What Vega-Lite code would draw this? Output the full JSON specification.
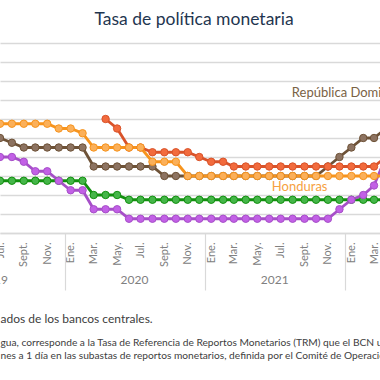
{
  "$schema": "https://vega.github.io/schema/vega-lite/v6.json",
  "width": 380,
  "height": 190,
  "autosize": {"type": "none"},
  "padding": {"left": 0, "top": 43, "right": 0, "bottom": 147},
  "background": "white",
  "config": {"view": {"stroke": null}, "font": "Lato"},
  "title": {"text": "Tasa de política monetaria", "font": "Lato", "fontSize": 17.5, "fontWeight": "normal", "color": "#1f3650", "offset": 15, "dx": 4},
  "datasets": {
    "tasas": [
      {"fecha": "2019-07-01", "pais": "Guatemala", "tasa": 2.75},
      {"fecha": "2019-08-01", "pais": "Guatemala", "tasa": 2.75},
      {"fecha": "2019-09-01", "pais": "Guatemala", "tasa": 2.75},
      {"fecha": "2019-10-01", "pais": "Guatemala", "tasa": 2.75},
      {"fecha": "2019-11-01", "pais": "Guatemala", "tasa": 2.75},
      {"fecha": "2019-12-01", "pais": "Guatemala", "tasa": 2.75},
      {"fecha": "2020-01-01", "pais": "Guatemala", "tasa": 2.75},
      {"fecha": "2020-02-01", "pais": "Guatemala", "tasa": 2.75},
      {"fecha": "2020-03-01", "pais": "Guatemala", "tasa": 2.0},
      {"fecha": "2020-04-01", "pais": "Guatemala", "tasa": 2.0},
      {"fecha": "2020-05-01", "pais": "Guatemala", "tasa": 2.0},
      {"fecha": "2020-06-01", "pais": "Guatemala", "tasa": 1.75},
      {"fecha": "2020-07-01", "pais": "Guatemala", "tasa": 1.75},
      {"fecha": "2020-08-01", "pais": "Guatemala", "tasa": 1.75},
      {"fecha": "2020-09-01", "pais": "Guatemala", "tasa": 1.75},
      {"fecha": "2020-10-01", "pais": "Guatemala", "tasa": 1.75},
      {"fecha": "2020-11-01", "pais": "Guatemala", "tasa": 1.75},
      {"fecha": "2020-12-01", "pais": "Guatemala", "tasa": 1.75},
      {"fecha": "2021-01-01", "pais": "Guatemala", "tasa": 1.75},
      {"fecha": "2021-02-01", "pais": "Guatemala", "tasa": 1.75},
      {"fecha": "2021-03-01", "pais": "Guatemala", "tasa": 1.75},
      {"fecha": "2021-04-01", "pais": "Guatemala", "tasa": 1.75},
      {"fecha": "2021-05-01", "pais": "Guatemala", "tasa": 1.75},
      {"fecha": "2021-06-01", "pais": "Guatemala", "tasa": 1.75},
      {"fecha": "2021-07-01", "pais": "Guatemala", "tasa": 1.75},
      {"fecha": "2021-08-01", "pais": "Guatemala", "tasa": 1.75},
      {"fecha": "2021-09-01", "pais": "Guatemala", "tasa": 1.75},
      {"fecha": "2021-10-01", "pais": "Guatemala", "tasa": 1.75},
      {"fecha": "2021-11-01", "pais": "Guatemala", "tasa": 1.75},
      {"fecha": "2021-12-01", "pais": "Guatemala", "tasa": 1.75},
      {"fecha": "2022-01-01", "pais": "Guatemala", "tasa": 1.75},
      {"fecha": "2022-02-01", "pais": "Guatemala", "tasa": 1.75},
      {"fecha": "2022-03-01", "pais": "Guatemala", "tasa": 1.75},
      {"fecha": "2022-04-01", "pais": "Guatemala", "tasa": 1.75},

      {"fecha": "2019-07-01", "pais": "Costa Rica", "tasa": 4.0},
      {"fecha": "2019-08-01", "pais": "Costa Rica", "tasa": 4.0},
      {"fecha": "2019-09-01", "pais": "Costa Rica", "tasa": 3.75},
      {"fecha": "2019-10-01", "pais": "Costa Rica", "tasa": 3.25},
      {"fecha": "2019-11-01", "pais": "Costa Rica", "tasa": 3.25},
      {"fecha": "2019-12-01", "pais": "Costa Rica", "tasa": 2.75},
      {"fecha": "2020-01-01", "pais": "Costa Rica", "tasa": 2.25},
      {"fecha": "2020-02-01", "pais": "Costa Rica", "tasa": 2.25},
      {"fecha": "2020-03-01", "pais": "Costa Rica", "tasa": 1.25},
      {"fecha": "2020-04-01", "pais": "Costa Rica", "tasa": 1.25},
      {"fecha": "2020-05-01", "pais": "Costa Rica", "tasa": 1.25},
      {"fecha": "2020-06-01", "pais": "Costa Rica", "tasa": 0.75},
      {"fecha": "2020-07-01", "pais": "Costa Rica", "tasa": 0.75},
      {"fecha": "2020-08-01", "pais": "Costa Rica", "tasa": 0.75},
      {"fecha": "2020-09-01", "pais": "Costa Rica", "tasa": 0.75},
      {"fecha": "2020-10-01", "pais": "Costa Rica", "tasa": 0.75},
      {"fecha": "2020-11-01", "pais": "Costa Rica", "tasa": 0.75},
      {"fecha": "2020-12-01", "pais": "Costa Rica", "tasa": 0.75},
      {"fecha": "2021-01-01", "pais": "Costa Rica", "tasa": 0.75},
      {"fecha": "2021-02-01", "pais": "Costa Rica", "tasa": 0.75},
      {"fecha": "2021-03-01", "pais": "Costa Rica", "tasa": 0.75},
      {"fecha": "2021-04-01", "pais": "Costa Rica", "tasa": 0.75},
      {"fecha": "2021-05-01", "pais": "Costa Rica", "tasa": 0.75},
      {"fecha": "2021-06-01", "pais": "Costa Rica", "tasa": 0.75},
      {"fecha": "2021-07-01", "pais": "Costa Rica", "tasa": 0.75},
      {"fecha": "2021-08-01", "pais": "Costa Rica", "tasa": 0.75},
      {"fecha": "2021-09-01", "pais": "Costa Rica", "tasa": 0.75},
      {"fecha": "2021-10-01", "pais": "Costa Rica", "tasa": 0.75},
      {"fecha": "2021-11-01", "pais": "Costa Rica", "tasa": 0.75},
      {"fecha": "2021-12-01", "pais": "Costa Rica", "tasa": 1.25},
      {"fecha": "2022-01-01", "pais": "Costa Rica", "tasa": 1.75},
      {"fecha": "2022-02-01", "pais": "Costa Rica", "tasa": 2.0},
      {"fecha": "2022-03-01", "pais": "Costa Rica", "tasa": 2.5},
      {"fecha": "2022-04-01", "pais": "Costa Rica", "tasa": 4.0},

      {"fecha": "2019-07-01", "pais": "República Dominicana", "tasa": 5.0},
      {"fecha": "2019-08-01", "pais": "República Dominicana", "tasa": 4.75},
      {"fecha": "2019-09-01", "pais": "República Dominicana", "tasa": 4.5},
      {"fecha": "2019-10-01", "pais": "República Dominicana", "tasa": 4.5},
      {"fecha": "2019-11-01", "pais": "República Dominicana", "tasa": 4.5},
      {"fecha": "2019-12-01", "pais": "República Dominicana", "tasa": 4.5},
      {"fecha": "2020-01-01", "pais": "República Dominicana", "tasa": 4.5},
      {"fecha": "2020-02-01", "pais": "República Dominicana", "tasa": 4.5},
      {"fecha": "2020-03-01", "pais": "República Dominicana", "tasa": 3.5},
      {"fecha": "2020-04-01", "pais": "República Dominicana", "tasa": 3.5},
      {"fecha": "2020-05-01", "pais": "República Dominicana", "tasa": 3.5},
      {"fecha": "2020-06-01", "pais": "República Dominicana", "tasa": 3.5},
      {"fecha": "2020-07-01", "pais": "República Dominicana", "tasa": 3.5},
      {"fecha": "2020-08-01", "pais": "República Dominicana", "tasa": 3.5},
      {"fecha": "2020-09-01", "pais": "República Dominicana", "tasa": 3.0},
      {"fecha": "2020-10-01", "pais": "República Dominicana", "tasa": 3.0},
      {"fecha": "2020-11-01", "pais": "República Dominicana", "tasa": 3.0},
      {"fecha": "2020-12-01", "pais": "República Dominicana", "tasa": 3.0},
      {"fecha": "2021-01-01", "pais": "República Dominicana", "tasa": 3.0},
      {"fecha": "2021-02-01", "pais": "República Dominicana", "tasa": 3.0},
      {"fecha": "2021-03-01", "pais": "República Dominicana", "tasa": 3.0},
      {"fecha": "2021-04-01", "pais": "República Dominicana", "tasa": 3.0},
      {"fecha": "2021-05-01", "pais": "República Dominicana", "tasa": 3.0},
      {"fecha": "2021-06-01", "pais": "República Dominicana", "tasa": 3.0},
      {"fecha": "2021-07-01", "pais": "República Dominicana", "tasa": 3.0},
      {"fecha": "2021-08-01", "pais": "República Dominicana", "tasa": 3.0},
      {"fecha": "2021-09-01", "pais": "República Dominicana", "tasa": 3.0},
      {"fecha": "2021-10-01", "pais": "República Dominicana", "tasa": 3.0},
      {"fecha": "2021-11-01", "pais": "República Dominicana", "tasa": 3.5},
      {"fecha": "2021-12-01", "pais": "República Dominicana", "tasa": 4.0},
      {"fecha": "2022-01-01", "pais": "República Dominicana", "tasa": 4.5},
      {"fecha": "2022-02-01", "pais": "República Dominicana", "tasa": 5.0},
      {"fecha": "2022-03-01", "pais": "República Dominicana", "tasa": 5.0},
      {"fecha": "2022-04-01", "pais": "República Dominicana", "tasa": 5.5},

      {"fecha": "2020-04-01", "pais": "Nicaragua", "tasa": 6.0},
      {"fecha": "2020-05-01", "pais": "Nicaragua", "tasa": 5.5},
      {"fecha": "2020-06-01", "pais": "Nicaragua", "tasa": 4.5},
      {"fecha": "2020-07-01", "pais": "Nicaragua", "tasa": 4.5},
      {"fecha": "2020-08-01", "pais": "Nicaragua", "tasa": 4.25},
      {"fecha": "2020-09-01", "pais": "Nicaragua", "tasa": 4.25},
      {"fecha": "2020-10-01", "pais": "Nicaragua", "tasa": 4.25},
      {"fecha": "2020-11-01", "pais": "Nicaragua", "tasa": 4.25},
      {"fecha": "2020-12-01", "pais": "Nicaragua", "tasa": 4.0},
      {"fecha": "2021-01-01", "pais": "Nicaragua", "tasa": 3.75},
      {"fecha": "2021-02-01", "pais": "Nicaragua", "tasa": 3.75},
      {"fecha": "2021-03-01", "pais": "Nicaragua", "tasa": 3.5},
      {"fecha": "2021-04-01", "pais": "Nicaragua", "tasa": 3.5},
      {"fecha": "2021-05-01", "pais": "Nicaragua", "tasa": 3.5},
      {"fecha": "2021-06-01", "pais": "Nicaragua", "tasa": 3.5},
      {"fecha": "2021-07-01", "pais": "Nicaragua", "tasa": 3.5},
      {"fecha": "2021-08-01", "pais": "Nicaragua", "tasa": 3.5},
      {"fecha": "2021-09-01", "pais": "Nicaragua", "tasa": 3.5},
      {"fecha": "2021-10-01", "pais": "Nicaragua", "tasa": 3.5},
      {"fecha": "2021-11-01", "pais": "Nicaragua", "tasa": 3.5},
      {"fecha": "2021-12-01", "pais": "Nicaragua", "tasa": 3.5},
      {"fecha": "2022-01-01", "pais": "Nicaragua", "tasa": 3.5},
      {"fecha": "2022-02-01", "pais": "Nicaragua", "tasa": 3.5},
      {"fecha": "2022-03-01", "pais": "Nicaragua", "tasa": 3.5},
      {"fecha": "2022-04-01", "pais": "Nicaragua", "tasa": 4.0},

      {"fecha": "2019-07-01", "pais": "Honduras", "tasa": 5.75},
      {"fecha": "2019-08-01", "pais": "Honduras", "tasa": 5.75},
      {"fecha": "2019-09-01", "pais": "Honduras", "tasa": 5.75},
      {"fecha": "2019-10-01", "pais": "Honduras", "tasa": 5.75},
      {"fecha": "2019-11-01", "pais": "Honduras", "tasa": 5.75},
      {"fecha": "2019-12-01", "pais": "Honduras", "tasa": 5.5},
      {"fecha": "2020-01-01", "pais": "Honduras", "tasa": 5.5},
      {"fecha": "2020-02-01", "pais": "Honduras", "tasa": 5.25},
      {"fecha": "2020-03-01", "pais": "Honduras", "tasa": 4.5},
      {"fecha": "2020-04-01", "pais": "Honduras", "tasa": 4.5},
      {"fecha": "2020-05-01", "pais": "Honduras", "tasa": 4.5},
      {"fecha": "2020-06-01", "pais": "Honduras", "tasa": 4.5},
      {"fecha": "2020-07-01", "pais": "Honduras", "tasa": 4.5},
      {"fecha": "2020-08-01", "pais": "Honduras", "tasa": 3.75},
      {"fecha": "2020-09-01", "pais": "Honduras", "tasa": 3.75},
      {"fecha": "2020-10-01", "pais": "Honduras", "tasa": 3.75},
      {"fecha": "2020-11-01", "pais": "Honduras", "tasa": 3.0},
      {"fecha": "2020-12-01", "pais": "Honduras", "tasa": 3.0},
      {"fecha": "2021-01-01", "pais": "Honduras", "tasa": 3.0},
      {"fecha": "2021-02-01", "pais": "Honduras", "tasa": 3.0},
      {"fecha": "2021-03-01", "pais": "Honduras", "tasa": 3.0},
      {"fecha": "2021-04-01", "pais": "Honduras", "tasa": 3.0},
      {"fecha": "2021-05-01", "pais": "Honduras", "tasa": 3.0},
      {"fecha": "2021-06-01", "pais": "Honduras", "tasa": 3.0},
      {"fecha": "2021-07-01", "pais": "Honduras", "tasa": 3.0},
      {"fecha": "2021-08-01", "pais": "Honduras", "tasa": 3.0},
      {"fecha": "2021-09-01", "pais": "Honduras", "tasa": 3.0},
      {"fecha": "2021-10-01", "pais": "Honduras", "tasa": 3.0},
      {"fecha": "2021-11-01", "pais": "Honduras", "tasa": 3.0},
      {"fecha": "2021-12-01", "pais": "Honduras", "tasa": 3.0},
      {"fecha": "2022-01-01", "pais": "Honduras", "tasa": 3.0},
      {"fecha": "2022-02-01", "pais": "Honduras", "tasa": 3.0},
      {"fecha": "2022-03-01", "pais": "Honduras", "tasa": 3.0},
      {"fecha": "2022-04-01", "pais": "Honduras", "tasa": 3.0}
    ],
    "etiquetas": [
      {"fecha": "2021-07-30", "pais": "República Dominicana", "tasa": 7.35, "texto": "República Dominicana"},
      {"fecha": "2021-06-08", "pais": "Honduras", "tasa": 2.44, "texto": "Honduras"}
    ]
  },
  "encoding": {
    "y": {
      "field": "tasa",
      "type": "quantitative",
      "scale": {"domain": [0, 10], "nice": false, "zero": true},
      "axis": {"values": [0, 1, 2, 3, 4, 5, 6, 7, 8, 9, 10], "labels": false, "ticks": false, "domain": false, "grid": true, "gridColor": "#d9d9d9", "gridWidth": 1.5, "title": null}
    }
  },
  "layer": [
    {
      "data": {"name": "tasas"},
      "mark": {"type": "line", "strokeWidth": 2.8, "clip": true},
      "encoding": {
        "x": {
          "field": "fecha",
          "type": "temporal",
          "scale": {"type": "utc", "domain": [{"year": 2019, "month": 7, "date": 1, "utc": true}, {"year": 2022, "month": 3, "date": 16, "hours": 14, "utc": true}], "nice": false},
          "axis": {
            "orient": "bottom",
            "values": [
              {"year": 2019, "month": 7, "date": 1, "utc": true},
              {"year": 2019, "month": 9, "date": 1, "utc": true},
              {"year": 2019, "month": 11, "date": 1, "utc": true},
              {"year": 2020, "month": 1, "date": 1, "utc": true},
              {"year": 2020, "month": 3, "date": 1, "utc": true},
              {"year": 2020, "month": 5, "date": 1, "utc": true},
              {"year": 2020, "month": 7, "date": 1, "utc": true},
              {"year": 2020, "month": 9, "date": 1, "utc": true},
              {"year": 2020, "month": 11, "date": 1, "utc": true},
              {"year": 2021, "month": 1, "date": 1, "utc": true},
              {"year": 2021, "month": 3, "date": 1, "utc": true},
              {"year": 2021, "month": 5, "date": 1, "utc": true},
              {"year": 2021, "month": 7, "date": 1, "utc": true},
              {"year": 2021, "month": 9, "date": 1, "utc": true},
              {"year": 2021, "month": 11, "date": 1, "utc": true},
              {"year": 2022, "month": 1, "date": 1, "utc": true},
              {"year": 2022, "month": 3, "date": 1, "utc": true}
            ],
            "labelExpr": "['Ene.','Feb.','Mar.','Abr.','May.','Jun.','Jul.','Ago.','Sept.','Oct.','Nov.','Dic.'][utcmonth(datum.value)]",
            "labelAngle": -90,
            "labelAlign": "right",
            "labelBaseline": "middle",
            "labelPadding": 9,
            "labelFont": "Lato",
            "labelFontSize": 11,
            "labelColor": "#808080",
            "labelFlush": false,
            "labelOverlap": false,
            "labelBound": false,
            "ticks": false,
            "grid": false,
            "domain": true,
            "domainColor": "#d9d9d9",
            "domainWidth": 1.5,
            "title": "ados de los bancos centrales.",
            "titleFont": "Lato",
            "titleFontSize": 12,
            "titleFontWeight": "normal",
            "titleColor": "#404040",
            "titleAlign": "left",
            "titleAnchor": "start",
            "titleBaseline": "middle",
            "titleX": 0,
            "titleY": 85
          }
        },
        "stroke": {
          "field": "pais",
          "type": "nominal",
          "scale": {"domain": ["Guatemala", "Costa Rica", "República Dominicana", "Nicaragua", "Honduras"], "range": ["#12900f", "#a64fc8", "#6e5237", "#d9532a", "#f7941d"]},
          "legend": null
        }
      }
    },
    {
      "data": {"name": "tasas"},
      "mark": {"type": "circle", "size": 55, "strokeWidth": 1, "opacity": 1, "clip": true},
      "encoding": {
        "x": {
          "field": "fecha",
          "type": "temporal",
          "axis": {
            "orient": "bottom",
            "values": [
              {"year": 2020, "month": 1, "date": 1, "utc": true},
              {"year": 2021, "month": 1, "date": 1, "utc": true},
              {"year": 2022, "month": 1, "date": 1, "utc": true}
            ],
            "labels": false,
            "domain": false,
            "grid": false,
            "ticks": true,
            "tickSize": 57,
            "tickOffset": -6,
            "tickColor": "#d9d9d9",
            "tickWidth": 1.2,
            "title": null
          }
        },
        "fill": {
          "field": "pais",
          "type": "nominal",
          "scale": {"domain": ["Guatemala", "Costa Rica", "República Dominicana", "Nicaragua", "Honduras"], "range": ["#45b649", "#c260e6", "#8d7361", "#f26b3d", "#fbb05a"]},
          "legend": null
        },
        "stroke": {"field": "pais", "type": "nominal", "legend": null}
      }
    },
    {
      "data": {"name": "etiquetas"},
      "mark": {"type": "text", "align": "left", "baseline": "middle", "font": "Lato", "fontSize": 13},
      "encoding": {
        "x": {
          "field": "fecha",
          "type": "temporal",
          "axis": {
            "orient": "bottom",
            "values": [
              {"year": 2019, "month": 7, "date": 1, "utc": true},
              {"year": 2020, "month": 7, "date": 1, "utc": true},
              {"year": 2021, "month": 7, "date": 1, "utc": true}
            ],
            "labelExpr": "'' + utcyear(datum.value)",
            "labelOffset": -6.5,
            "labelPadding": 41,
            "labelFont": "Lato",
            "labelFontSize": 12,
            "labelColor": "#808080",
            "labelFlush": false,
            "labelOverlap": false,
            "labelBound": false,
            "ticks": false,
            "domain": false,
            "grid": false,
            "title": ["gua, corresponde a la Tasa de Referencia de Reportos Monetarios (TRM) que el BCN utiliza para sus operaciones", "nes a 1 día en las subastas de reportos monetarios, definida por el Comité de Operaciones Monetarias."],
            "titleFont": "Lato",
            "titleFontSize": 10.2,
            "titleFontWeight": "normal",
            "titleColor": "#404040",
            "titleAlign": "left",
            "titleAnchor": "start",
            "titleBaseline": "middle",
            "titleLineHeight": 13.5,
            "titleX": 0,
            "titleY": 109
          }
        },
        "text": {"field": "texto"},
        "color": {
          "field": "pais",
          "type": "nominal",
          "scale": {"domain": ["República Dominicana", "Honduras"], "range": ["#7a6244", "#f6a141"]},
          "legend": null
        }
      }
    }
  ],
  "resolve": {"axis": {"x": "independent"}}
}
